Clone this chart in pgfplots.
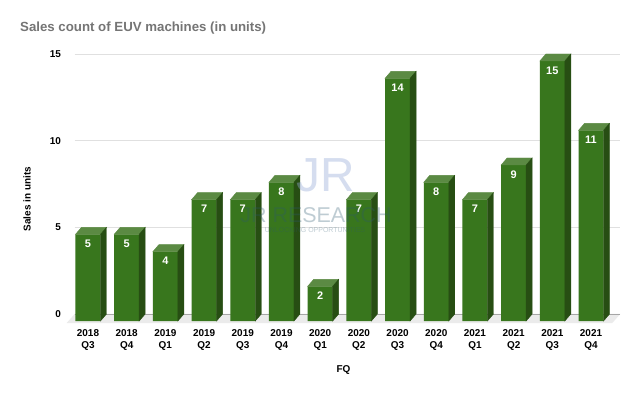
\documentclass[border=0pt]{standalone}
\usepackage{fontspec}
\setmainfont{Liberation Sans}
\usepackage{pgfplots}
\usepackage{pgfplotstable}
\pgfplotsset{compat=1.18}
\definecolor{frontgreen}{HTML}{38761D}
\definecolor{sidegreen}{HTML}{274E13}
\definecolor{topgreen}{HTML}{5B8A43}
\definecolor{gridgray}{HTML}{E0E0E0}
\definecolor{titlegray}{HTML}{757575}
\definecolor{floorgray}{HTML}{EBEBEB}
\definecolor{wmark}{RGB}{43,88,110}
\definecolor{logo}{RGB}{150,170,215}
\pgfplotstableread{
x y
0 5
1 5
2 4
3 7
4 7
5 8
6 2
7 7
8 14
9 8
10 7
11 9
12 15
13 11
}\euvdata
\begin{document}
\begin{tikzpicture}
\useasboundingbox[fill=white] (0,0) rectangle (640bp,396bp);
\node[anchor=base west, font=\bfseries\fontsize{13.3}{16}\selectfont, text=titlegray, inner sep=0pt] at (20bp,364bp) {Sales count of EUV machines (in units)};
\begin{axis}[
  at={(74.65bp,82bp)}, anchor=south west,
  scale only axis, width=545.6bp, height=260bp,
  xmin=-0.5, xmax=13.6, ymin=0, ymax=15,
  clip=false,
  axis line style={draw=none},
  major tick length=0pt,
  ytick={0,5,10,15},
  ymajorgrids, grid style={draw=gridgray, line width=0.9bp},
  xtick={0,...,13},
  xticklabels={{2018\\Q3},{2018\\Q4},{2019\\Q1},{2019\\Q2},{2019\\Q3},{2019\\Q4},{2020\\Q1},{2020\\Q2},{2020\\Q3},{2020\\Q4},{2021\\Q1},{2021\\Q2},{2021\\Q3},{2021\\Q4}},
  xticklabel style={align=center, font=\bfseries\fontsize{10}{12}\selectfont, inner sep=0pt, anchor=north, xshift=-6bp, yshift=-15bp},
  yticklabel style={font=\bfseries\fontsize{10}{12}\selectfont, inner sep=0pt, anchor=east, xshift=-13.5bp},
  /pgf/number format/assume math mode=true,
  xlabel={FQ}, ylabel={Sales in units},
  xlabel style={font=\bfseries\fontsize{10}{12}\selectfont, at={(axis description cs:0.5,0)}, anchor=center, yshift=-56bp, xshift=-4bp},
  ylabel style={font=\bfseries\fontsize{10}{12}\selectfont, at={(axis description cs:-0.0872,0.442)}, anchor=center},
]
% floor
\fill[floorgray] (axis cs:-0.5,0) -- (axis cs:13.6,0) -- ([shift={(-8bp,-9bp)}]axis cs:13.6,0) -- ([shift={(-8bp,-9bp)}]axis cs:-0.5,0) -- cycle;
\draw[black!35, line width=0.9bp] (axis cs:-0.5,0) -- (axis cs:13.6,0);
% top and side faces
\addplot[scatter, only marks, mark=*, mark size=1pt,
  point meta=y,
  visualization depends on={y \as \yv},
  scatter/@pre marker code/.code={%
    \pgfmathsetlengthmacro\hh{\yv*17.3333bp}%
    \fill[topgreen] (-18.5bp,-7bp) -- (6.5bp,-7bp) -- (12.5bp,0bp) -- (-12.5bp,0bp) -- cycle;
    \fill[sidegreen] (6.5bp,-7bp) -- (12.5bp,0bp) -- (12.5bp,-\hh) -- (6.5bp,{-\hh-7bp}) -- cycle;
    \begin{scope}[opacity=0]%
  },
  scatter/@post marker code/.code={\end{scope}},
] table[x=x,y=y] {\euvdata};
% front faces with value labels
\addplot[ybar, bar width=25bp, bar shift=-6bp, fill=frontgreen, draw=none, yshift=-7bp,
  nodes near coords,
  nodes near coords style={font=\bfseries\fontsize{11}{12}\selectfont, color=white, anchor=center, xshift=-6bp, yshift=-9.5bp},
] table[x=x,y=y] {\euvdata};
\end{axis}
% watermark
\node[font=\fontsize{48}{48}\selectfont, text=logo, opacity=0.4] at (326bp,221bp) {JR};
\node[font=\fontsize{21.5}{22}\selectfont, text=wmark, opacity=0.3] at (316bp,181bp) {JR RESEARCH};
\node[font=\fontsize{7}{8}\selectfont, text=wmark, opacity=0.3] at (315bp,166bp) {UNLOCKING OPPORTUNITIES};
\end{tikzpicture}
\end{document}
